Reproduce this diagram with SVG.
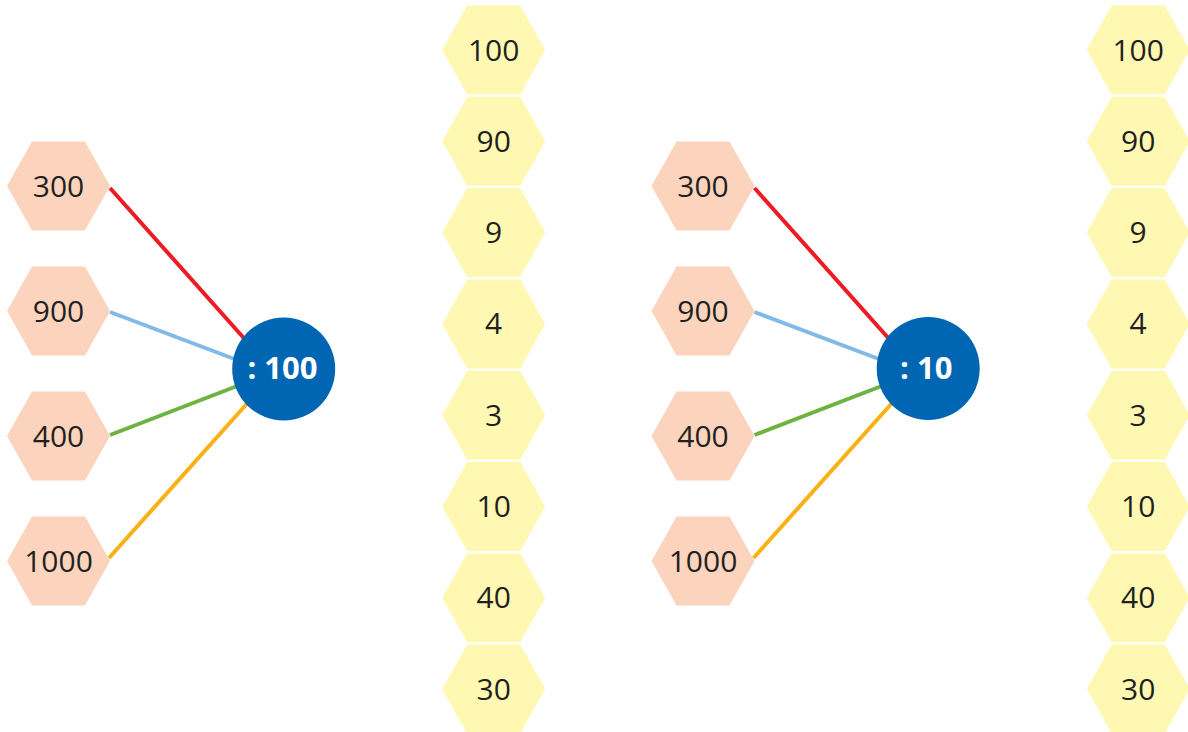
<svg xmlns="http://www.w3.org/2000/svg" width="1188" height="732" viewBox="0 0 1188 732">
<defs>
<style>
.pe{fill:#fcd4bd}
.ye{fill:#fff8b3}
.t{font-family:"Open Sans","Liberation Sans",sans-serif;font-size:30px;fill:#231f20;text-anchor:middle}
.c{fill:#0066b3}
.ct{font-family:"Open Sans","Liberation Sans",sans-serif;font-size:31px;font-weight:bold;fill:#ffffff;text-anchor:middle}
.l{stroke-width:4;fill:none}
</style>
<polygon id="hex" points="-51.5,0 -26.5,-44.5 26.5,-44.5 51.5,0 26.5,44.5 -26.5,44.5"/>
</defs>
<rect width="1188" height="732" fill="#ffffff"/>
<g id="connectors">
<line class="l" stroke="#ed1c24" x1="110" y1="188" x2="250" y2="345"/>
<line class="l" stroke="#80bae6" x1="110" y1="312" x2="245" y2="363"/>
<line class="l" stroke="#6db33f" x1="110" y1="435" x2="245" y2="383"/>
<line class="l" stroke="#fbb116" x1="109" y1="558" x2="252" y2="398"/>
<line class="l" stroke="#ed1c24" x1="754.5" y1="188" x2="894.5" y2="345"/>
<line class="l" stroke="#80bae6" x1="754.5" y1="312" x2="889.5" y2="363"/>
<line class="l" stroke="#6db33f" x1="754.5" y1="435" x2="889.5" y2="383"/>
<line class="l" stroke="#fbb116" x1="753.5" y1="558" x2="896.5" y2="398"/>
</g>
<g id="l300"><use href="#hex" class="pe" x="58.5" y="186"/><text class="t" x="58.5" y="196.5">300</text></g>
<g id="l900"><use href="#hex" class="pe" x="58.5" y="311"/><text class="t" x="58.5" y="321.5">900</text></g>
<g id="l400"><use href="#hex" class="pe" x="58.5" y="436"/><text class="t" x="58.5" y="446.5">400</text></g>
<g id="l1000"><use href="#hex" class="pe" x="58.5" y="561"/><text class="t" x="58.5" y="571.5">1000</text></g>
<g id="lcircle"><circle class="c" cx="283.7" cy="369" r="51.5"/><text class="ct" x="282.5" y="378.5">: 100</text></g>
<g id="ly100"><use href="#hex" class="ye" x="493.7" y="50"/><text class="t" x="493.7" y="60.5">100</text></g>
<g id="ly90"><use href="#hex" class="ye" x="493.7" y="141.3"/><text class="t" x="493.7" y="151.8">90</text></g>
<g id="ly9"><use href="#hex" class="ye" x="493.7" y="232.6"/><text class="t" x="493.7" y="243.1">9</text></g>
<g id="ly4"><use href="#hex" class="ye" x="493.7" y="323.9"/><text class="t" x="493.7" y="334.4">4</text></g>
<g id="ly3"><use href="#hex" class="ye" x="493.7" y="415.2"/><text class="t" x="493.7" y="425.7">3</text></g>
<g id="ly10"><use href="#hex" class="ye" x="493.7" y="506.5"/><text class="t" x="493.7" y="517">10</text></g>
<g id="ly40"><use href="#hex" class="ye" x="493.7" y="597.8"/><text class="t" x="493.7" y="608.3">40</text></g>
<g id="ly30"><use href="#hex" class="ye" x="493.7" y="689.1"/><text class="t" x="493.7" y="699.6">30</text></g>
<g id="r300"><use href="#hex" class="pe" x="703" y="186"/><text class="t" x="703" y="196.5">300</text></g>
<g id="r900"><use href="#hex" class="pe" x="703" y="311"/><text class="t" x="703" y="321.5">900</text></g>
<g id="r400"><use href="#hex" class="pe" x="703" y="436"/><text class="t" x="703" y="446.5">400</text></g>
<g id="r1000"><use href="#hex" class="pe" x="703" y="561"/><text class="t" x="703" y="571.5">1000</text></g>
<g id="rcircle"><circle class="c" cx="928.2" cy="368.5" r="51.5"/><text class="ct" x="926.2" y="378.5">: 10</text></g>
<g id="ry100"><use href="#hex" class="ye" x="1138.2" y="50"/><text class="t" x="1138.2" y="60.5">100</text></g>
<g id="ry90"><use href="#hex" class="ye" x="1138.2" y="141.3"/><text class="t" x="1138.2" y="151.8">90</text></g>
<g id="ry9"><use href="#hex" class="ye" x="1138.2" y="232.6"/><text class="t" x="1138.2" y="243.1">9</text></g>
<g id="ry4"><use href="#hex" class="ye" x="1138.2" y="323.9"/><text class="t" x="1138.2" y="334.4">4</text></g>
<g id="ry3"><use href="#hex" class="ye" x="1138.2" y="415.2"/><text class="t" x="1138.2" y="425.7">3</text></g>
<g id="ry10"><use href="#hex" class="ye" x="1138.2" y="506.5"/><text class="t" x="1138.2" y="517">10</text></g>
<g id="ry40"><use href="#hex" class="ye" x="1138.2" y="597.8"/><text class="t" x="1138.2" y="608.3">40</text></g>
<g id="ry30"><use href="#hex" class="ye" x="1138.2" y="689.1"/><text class="t" x="1138.2" y="699.6">30</text></g>
</svg>
